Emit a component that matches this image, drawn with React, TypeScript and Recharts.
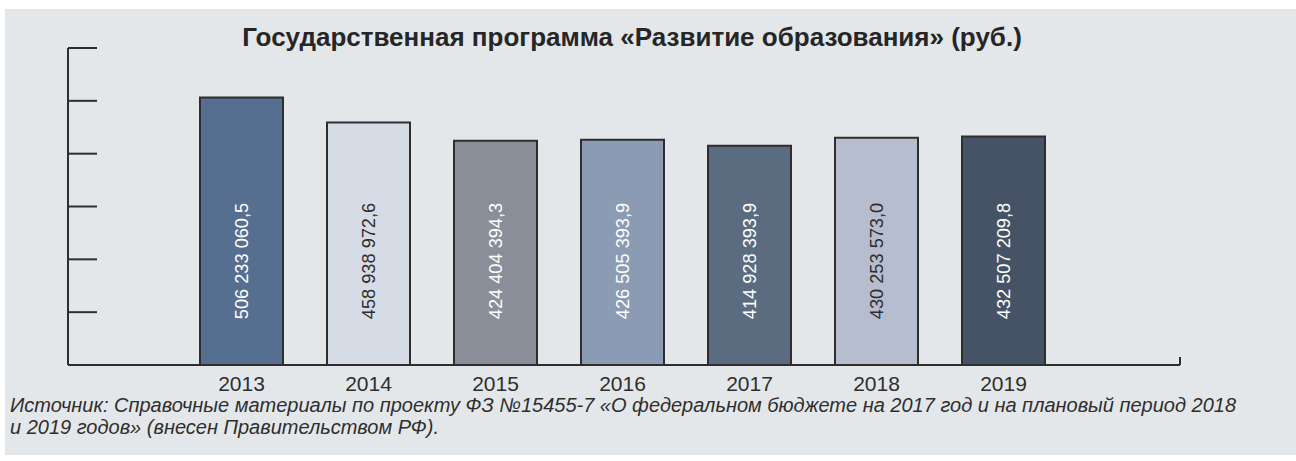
import { BarChart, Bar, Cell, XAxis, YAxis, LabelList, usePlotArea } from "recharts";

const years = ["2013", "2014", "2015", "2016", "2017", "2018", "2019"];
const amounts = [
  506233060.5, 458938972.6, 424404394.3, 426505393.9, 414928393.9, 430253573.0, 432507209.8,
];
const amountLabels = [
  "506 233 060,5",
  "458 938 972,6",
  "424 404 394,3",
  "426 505 393,9",
  "414 928 393,9",
  "430 253 573,0",
  "432 507 209,8",
];
const yTicks = [0, 100000000, 200000000, 300000000, 400000000, 500000000, 600000000];

const fills = ["#566f91", "#d6dce6", "#898e99", "#8b9bb3", "#5b6b80", "#b6bdce", "#465366"];
const textColors = ["#ffffff", "#2e2e2e", "#ffffff", "#ffffff", "#ffffff", "#2e2e2e", "#ffffff"];

const title = "Государственная программа «Развитие образования» (руб.)";
const sourceLines = [
  "Источник: Справочные материалы по проекту ФЗ №15455-7 «О федеральном бюджете на 2017 год и на плановый период 2018",
  "и 2019 годов» (внесен Правительством РФ).",
];

const data = years.map((year, i) => ({ year, value: amounts[i], label: amountLabels[i] }));

const FONT = '"Liberation Sans", Arial, sans-serif';
const INK = "#2e2e2e";

function BarText(props: any) {
  const { x, y, width, height, index } = props;
  const cx = x + width / 2;
  const cy = y + height - 104;
  return (
    <text
      x={cx}
      y={cy}
      transform={`rotate(-90 ${cx} ${cy})`}
      textAnchor="middle"
      dominantBaseline="central"
      fontFamily={FONT}
      fontSize={18.2}
      fill={textColors[index]}
    >
      {amountLabels[index]}
    </text>
  );
}

// small upward notch at the right end of the x axis
function AxisEndCap() {
  const area = usePlotArea();
  if (!area) return null;
  const xEnd = area.x + area.width;
  const yBase = area.y + area.height;
  return <line x1={xEnd} x2={xEnd} y1={yBase} y2={yBase - 8} stroke={INK} strokeWidth={2} />;
}

export default function App() {
  return (
    <div style={{ position: "absolute", left: 0, top: 0, width: 1296, height: 461, background: "#ffffff" }}>
      <div style={{ position: "absolute", left: 5, top: 9, width: 1291, height: 446, background: "#e4e7ea" }} />
      <div
        style={{
          position: "absolute",
          left: 0,
          top: 22,
          width: 1264,
          textAlign: "center",
          fontFamily: FONT,
          fontWeight: "bold",
          fontSize: 26,
          color: "#262626",
          whiteSpace: "nowrap",
        }}
      >
        {title}
      </div>
      <div style={{ position: "absolute", left: 0, top: 0 }}>
        <BarChart width={1296} height={461} data={data} margin={{ top: 48, right: 116, bottom: 66, left: 68 }}>
          <XAxis
            dataKey="year"
            height={30}
            padding={{ left: 110, right: 113 }}
            axisLine={{ stroke: INK, strokeWidth: 2 }}
            tickLine={false}
            tickMargin={5}
            tick={{ fontSize: 21, fill: INK, fontFamily: FONT }}
          />
          <YAxis
            width={1}
            mirror
            domain={[0, 600000000]}
            ticks={yTicks}
            tickFormatter={() => ""}
            tickSize={29}
            tickLine={{ stroke: INK, strokeWidth: 2 }}
            axisLine={{ stroke: INK, strokeWidth: 2 }}
          />
          <Bar dataKey="value" barSize={83} stroke={INK} strokeWidth={2} isAnimationActive={false}>
            {data.map((d, i) => (
              <Cell key={d.year} fill={fills[i]} />
            ))}
            <LabelList dataKey="label" content={BarText} />
          </Bar>
          <AxisEndCap />
        </BarChart>
      </div>
      <div
        style={{
          position: "absolute",
          left: 10,
          top: 394,
          fontFamily: FONT,
          fontStyle: "italic",
          fontSize: 20,
          lineHeight: "22px",
          color: INK,
          whiteSpace: "nowrap",
        }}
      >
        {sourceLines.map((line) => (
          <div key={line}>{line}</div>
        ))}
      </div>
    </div>
  );
}
